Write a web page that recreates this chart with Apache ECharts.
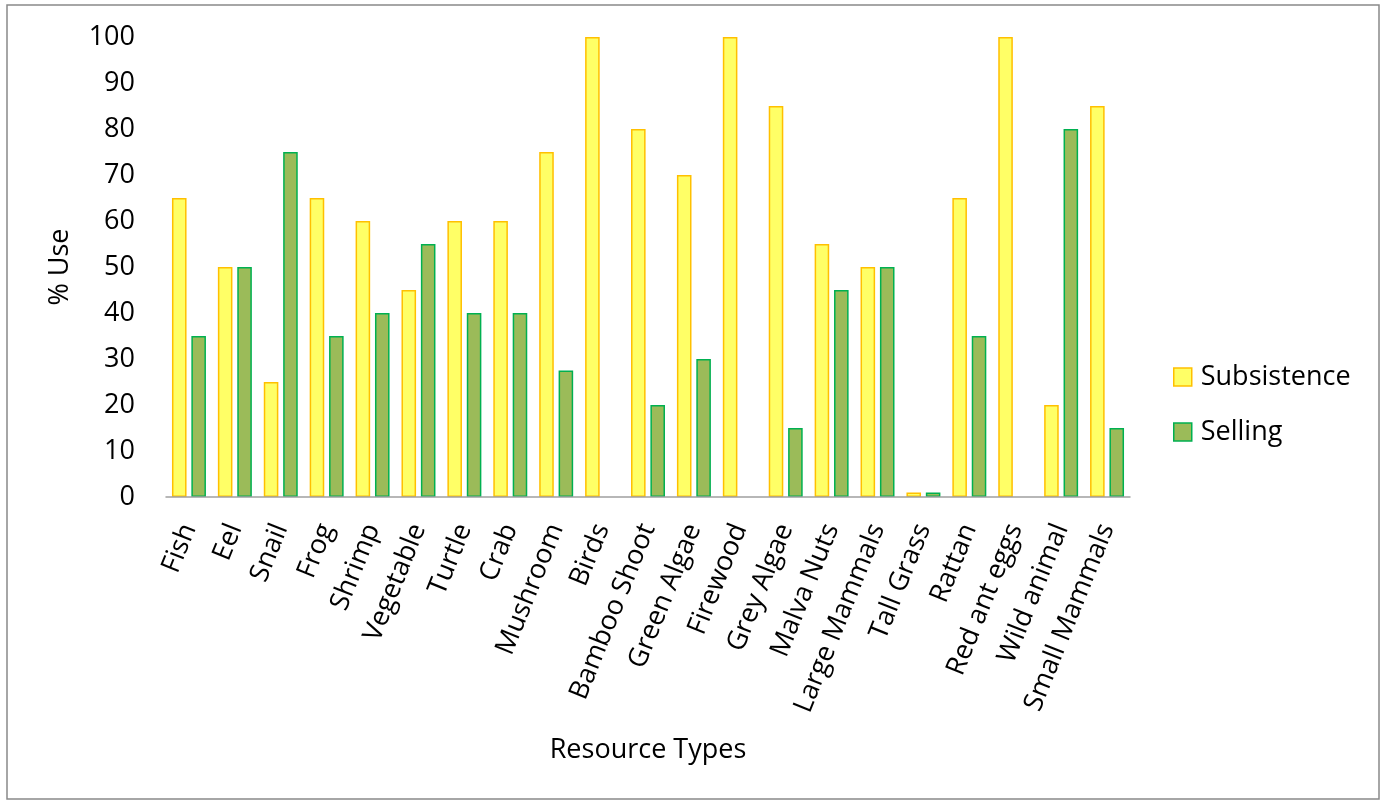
<!DOCTYPE html>
<html>
<head>
<meta charset="utf-8">
<style>
  html, body { margin: 0; padding: 0; background: #ffffff; }
  #chart { width: 1385px; height: 801px; }
</style>
<script src="https://cdn.jsdelivr.net/npm/echarts@6/dist/echarts.min.js"></script>
</head>
<body>
<div id="chart"></div>
<script>
// Share of each resource used for subsistence vs. selling (%)
const categories = [
  'Fish', 'Eel', 'Snail', 'Frog', 'Shrimp', 'Vegetable', 'Turtle', 'Crab',
  'Mushroom', 'Birds', 'Bamboo Shoot', 'Green Algae', 'Firewood', 'Grey Algae',
  'Malva Nuts', 'Large Mammals', 'Tall Grass', 'Rattan', 'Red ant eggs',
  'Wild animal', 'Small Mammals'
];
const subsistence = [65, 50, 25, 65, 60, 45, 60, 60, 75, 100, 80, 70, 100, 85, 55, 50, 1, 65, 100, 20, 85];
const selling     = [35, 50, 75, 35, 40, 55, 40, 40, 27.5, 0, 20, 30, 0, 15, 45, 50, 1, 35, 0, 80, 15];
const yTicks = [0, 10, 20, 30, 40, 50, 60, 70, 80, 90, 100];

const FONT = 'Open Sans';
const FS = 27;
const subStyle = { color: '#FFFF66', borderColor: '#FFC000', borderWidth: 1.5 };
const selStyle = { color: '#9BBB59', borderColor: '#00B050', borderWidth: 1.5 };

// A zero-height bar has no visible outline
const toBarData = vals => vals.map(v => v === 0 ? { value: v, itemStyle: { borderWidth: 0 } } : v);

const chart = echarts.init(document.getElementById('chart'), null, { renderer: 'canvas' });

chart.setOption({
  animation: false,
  backgroundColor: '#ffffff',
  textStyle: { fontFamily: FONT, color: '#000000' },
  graphic: [{
    type: 'rect',
    shape: { x: 7, y: 5, width: 1372, height: 794 },
    style: { fill: 'none', stroke: '#898989', lineWidth: 1.5 },
    silent: true
  }],
  grid: { left: 166, right: 255, top: 37, bottom: 304, containLabel: false },
  legend: {
    orient: 'vertical',
    left: 1173,
    top: 362,
    padding: 0,
    itemWidth: 18,
    itemHeight: 18,
    itemGap: 25,
    icon: 'rect',
    textStyle: { fontFamily: FONT, fontSize: FS, color: '#000000', lineHeight: 30, padding: [0, 0, 0, 4] },
    data: [
      { name: 'Subsistence', itemStyle: subStyle },
      { name: 'Selling', itemStyle: selStyle }
    ]
  },
  xAxis: {
    type: 'category',
    data: categories,
    z: 5,
    name: 'Resource Types',
    nameLocation: 'middle',
    nameGap: 240,
    nameTextStyle: { fontFamily: FONT, fontSize: FS, color: '#000000' },
    axisLine: { show: true, lineStyle: { color: '#A0A0A0', width: 1.5 } },
    axisTick: { show: false },
    axisLabel: {
      interval: 0,
      rotate: 68,
      margin: 28,
      fontFamily: FONT,
      fontSize: FS,
      color: '#000000'
    }
  },
  yAxis: {
    type: 'value',
    min: yTicks[0],
    max: yTicks[yTicks.length - 1],
    interval: 10,
    name: '% Use',
    nameLocation: 'middle',
    nameGap: 92,
    nameRotate: 90,
    nameTextStyle: { fontFamily: FONT, fontSize: FS, color: '#000000' },
    axisLine: { show: false },
    axisTick: { show: false },
    splitLine: { show: false },
    axisLabel: { margin: 31, fontFamily: FONT, fontSize: FS, color: '#000000' }
  },
  series: [
    {
      name: 'Subsistence',
      type: 'bar',
      data: toBarData(subsistence),
      itemStyle: subStyle,
      barGap: '33%',
      barCategoryGap: '26%'
    },
    {
      name: 'Selling',
      type: 'bar',
      data: toBarData(selling),
      itemStyle: selStyle,
      barGap: '33%',
      barCategoryGap: '26%'
    }
  ]
});
</script>
</body>
</html>
